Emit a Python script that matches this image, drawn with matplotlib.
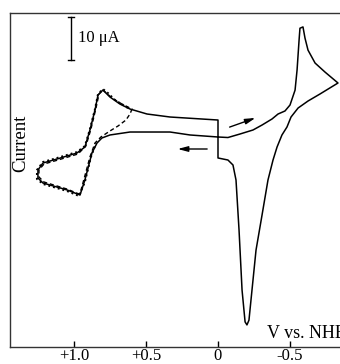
import matplotlib
matplotlib.use('Agg')
import matplotlib.pyplot as plt

# ==============================================================================
# DATA  (potential in V vs. NHE, current in uA, cathodic current up)
# ==============================================================================
solid_v = [0.0, 0.194, 0.333, 0.611, 0.75, 0.806, 0.840, 0.875, 0.924, 0.958,
           1.049, 1.215, 1.25, 1.25, 1.215, 1.118, 0.979, 0.924, 0.889, 0.854,
           0.833, 0.799, 0.75, 0.681, 0.611, 0.493, 0.333, 0.0,
           0.0, -0.069, -0.104, -0.125, -0.146, -0.167, -0.188, -0.201, -0.215,
           -0.236, -0.264, -0.306, -0.347, -0.382, -0.410, -0.444, -0.479,
           -0.507, -0.556, -0.625, -0.708, -0.833,
           -0.743, -0.674, -0.625, -0.604, -0.590, -0.569, -0.563, -0.549,
           -0.535, -0.5, -0.465, -0.417, -0.375, -0.306, -0.243, -0.153,
           -0.069, 0.0]
solid_i = [0.0, 0.47, 1.16, 1.16, 0.47, -0.23, -1.40, -3.72, -10.0, -13.5,
           -12.3, -10.7, -9.53, -7.67, -6.05, -5.12, -3.72, -2.33, 1.63, 6.28,
           9.77, 10.93, 9.30, 7.67, 6.51, 5.35, 4.65, 3.95,
           -4.88, -5.35, -6.51, -10.0, -21.6, -35.6, -43.0, -43.7, -42.6,
           -35.6, -26.3, -18.1, -10.0, -5.35, -2.33, 0.47, 2.33,
           4.65, 6.74, 8.37, 10.0, 12.56,
           15.1, 17.2, 20.2, 23.0, 25.6, 25.3, 22.6, 15.6,
           10.9, 7.44, 6.05, 5.35, 4.19, 2.79, 1.63, 0.70,
           -0.12, 0.0]

dashed_v = [0.799, 0.736, 0.667, 0.597, 0.611, 0.639, 0.694, 0.75, 0.813,
            0.854, 0.889, 0.917, 0.951, 0.965, 1.049, 1.208, 1.243, 1.243,
            1.208, 1.111, 0.972, 0.917, 0.882, 0.847, 0.826, 0.799]
dashed_i = [10.93, 9.07, 7.67, 6.51, 5.35, 3.95, 2.56, 1.40, 0.0,
            -1.40, -4.65, -8.14, -12.33, -13.26, -12.1, -10.47, -9.30, -7.67,
            -6.28, -5.35, -3.95, -2.09, 1.86, 6.74, 10.0, 10.93]

dotted_v = [0.625, 0.715, 0.764, 0.799, 0.833, 0.854, 0.889, 0.924, 0.979,
            1.118, 1.215, 1.257, 1.257, 1.215, 1.049, 0.965, 0.924, 0.882,
            0.847]
dotted_i = [6.74, 8.60, 10.23, 11.16, 10.0, 6.51, 1.86, -2.09, -3.49,
            -4.88, -5.81, -7.67, -9.77, -10.93, -12.56, -13.72, -10.47, -4.65,
            -1.40]

tick_pos = [1.0, 0.5, 0.0, -0.5]
tick_labels = ['+1.0', '+0.5', '0', '-0.5']

# ==============================================================================
# PLOT
# ==============================================================================
plt.rcParams['font.family'] = ['Liberation Serif', 'DejaVu Serif']

fig = plt.figure(figsize=(3.4, 3.64), dpi=100)
ax = fig.add_axes([10 / 340, 1 - 347 / 364, 1 - 10 / 340, (347 - 13) / 364])

ax.plot(solid_v, solid_i, color='black', lw=1.1, solid_joinstyle='round')
ax.plot(dashed_v, dashed_i, color='black', lw=1.0, ls=(0, (3, 2)))
ax.plot(dotted_v, dotted_i, color='black', lw=1.4, ls=(0, (1, 1.5)))

# scan direction arrows
ax.annotate('', xy=(-0.278, 4.65), xytext=(-0.0625, 2.09),
            arrowprops=dict(arrowstyle='-|>,head_length=0.6,head_width=0.16',
                            color='black', lw=1.0))
ax.annotate('', xy=(0.299, -2.79), xytext=(0.056, -2.79),
            arrowprops=dict(arrowstyle='-|>,head_length=0.6,head_width=0.16',
                            color='black', lw=1.0))

# 10 uA scale bar
ax.plot([1.021, 1.021], [17.9, 27.9], color='black', lw=1.0)
ax.plot([1.04, 1.002], [27.9, 27.9], color='black', lw=1.0)
ax.plot([1.04, 1.002], [17.9, 17.9], color='black', lw=1.0)
ax.text(0.975, 23.0, '10 \u03bcA', fontsize=12, va='center', ha='left')

ax.text(1.372, -1.4, 'Current', rotation=90, fontsize=13.5,
        va='center', ha='center')
ax.text(-0.34, -45.6, 'V vs. NHE', fontsize=13, va='center', ha='left',
        clip_on=False)

ax.set_xlim(1.444, -0.847)
ax.set_ylim(-48.84, 28.84)
ax.set_xticks(tick_pos)
ax.set_xticklabels(tick_labels, fontsize=12)
ax.set_yticks([])
ax.tick_params(axis='x', direction='in', length=4, width=1.0, pad=1)
ax.spines['right'].set_visible(False)
for s in ['left', 'top', 'bottom']:
    ax.spines[s].set_linewidth(1.0)
    ax.spines[s].set_color('#333333')

plt.savefig('out.png', dpi=100)
plt.close()
